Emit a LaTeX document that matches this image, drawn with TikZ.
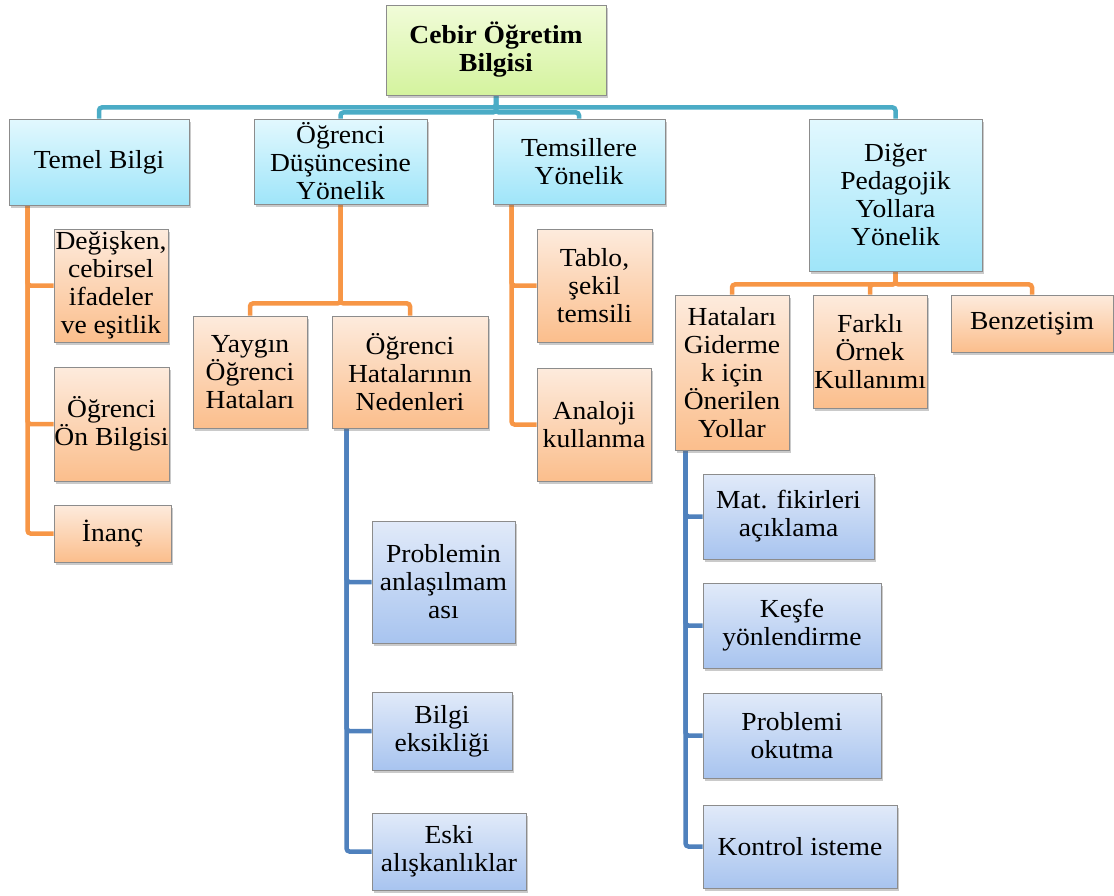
\documentclass[tikz,border=0pt]{standalone}
\usepackage{fontspec}
\setmainfont{Liberation Serif}[FakeStretch=1.06]
\usetikzlibrary{shadows,calc,backgrounds}

\definecolor{linkteal}{HTML}{4BACC6}
\definecolor{linkorange}{HTML}{F79646}
\definecolor{linkblue}{HTML}{4F81BD}

\tikzset{
  box/.style={draw=black!45, line width=0.9pt, inner sep=0pt, align=center,
    font=\fontsize{26}{28}\selectfont,
    drop shadow={shadow xshift=1.5pt, shadow yshift=-3pt, opacity=0.35, fill=black!60}},
  rootbox/.style={box, top color={rgb,255:red,241;green,252;blue,217}, bottom color={rgb,255:red,212;green,243;blue,158},
    font=\fontsize{26}{28}\selectfont\bfseries},
  cyanbox/.style={box, top color={rgb,255:red,226;green,248;blue,254}, bottom color={rgb,255:red,159;green,229;blue,249}},
  orangebox/.style={box, top color={rgb,255:red,253;green,235;blue,221}, bottom color={rgb,255:red,251;green,190;blue,140}},
  bluebox/.style={box, top color={rgb,255:red,225;green,234;blue,249}, bottom color={rgb,255:red,168;green,196;blue,239}},
  tealline/.style={draw=linkteal, line width=4.5pt, rounded corners=3pt},
  orangeline/.style={draw=linkorange, line width=4.5pt, rounded corners=3pt},
  blueline/.style={draw=linkblue, line width=4.5pt, rounded corners=3pt}
}

\begin{document}
\begin{tikzpicture}[x=1pt, y=-1pt]
\useasboundingbox (0,0) rectangle (1114,895);

% root
\node[rootbox, minimum width=220, minimum height=90] (root) at (496,50) {Cebir Öğretim\\Bilgisi};

% first level
\node[cyanbox, minimum width=180, minimum height=86] (tb) at (99,162) {Temel Bilgi};
\node[cyanbox, minimum width=173, minimum height=85] (od) at (340.5,161.5) {Öğrenci\\Düşüncesine\\Yönelik};
\node[cyanbox, minimum width=172, minimum height=85] (tm) at (579,161.5) {Temsillere\\Yönelik};
\node[cyanbox, minimum width=173, minimum height=152] (dp) at (895.5,195) {Diğer\\Pedagojik\\Yollara\\Yönelik};

% second level
\node[orangebox, minimum width=114, minimum height=113] (dg) at (111,285.5) {Değişken,\\cebirsel\\ifadeler\\ve eşitlik};
\node[orangebox, minimum width=115, minimum height=114] (ob) at (111.5,424) {Öğrenci\\Ön Bilgisi};
\node[orangebox, minimum width=117, minimum height=57] (in) at (112.5,533.5) {İnanç};
\node[orangebox, minimum width=114, minimum height=112] (yh) at (250,372) {Yaygın\\Öğrenci\\Hataları};
\node[orangebox, minimum width=156, minimum height=112] (hn) at (410,372) {Öğrenci\\Hatalarının\\Nedenleri};
\node[orangebox, minimum width=115, minimum height=113] (ts) at (594.5,285.5) {Tablo,\\şekil\\temsili};
\node[orangebox, minimum width=114, minimum height=113] (an) at (594,424.5) {Analoji\\kullanma};
\node[orangebox, minimum width=114, minimum height=155] (hg) at (732,372.5) {Hataları\\Giderme\\k için\\Önerilen\\Yollar};
\node[orangebox, minimum width=114, minimum height=113] (fo) at (870,351.5) {Farklı\\Örnek\\Kullanımı};
\node[orangebox, minimum width=162, minimum height=57] (bz) at (1032,323.5) {Benzetişim};

% third level
\node[bluebox, minimum width=143, minimum height=122] (pa) at (443.5,582) {Problemin\\anlaşılmam\\ası};
\node[bluebox, minimum width=140, minimum height=78] (be) at (442,731) {Bilgi\\eksikliği};
\node[bluebox, minimum width=154, minimum height=77] (ea) at (449,851.5) {Eski\\alışkanlıklar};
\node[bluebox, minimum width=171, minimum height=85] (mf) at (788.5,516.5) {Mat. fikirleri\\açıklama};
\node[bluebox, minimum width=178, minimum height=85] (ky) at (792,625.5) {Keşfe\\yönlendirme};
\node[bluebox, minimum width=178, minimum height=85] (po) at (792,735.5) {Problemi\\okutma};
\node[bluebox, minimum width=194, minimum height=83] (ki) at (800,846.5) {Kontrol isteme};

% connectors, kept behind the boxes
\begin{scope}[on background layer]
  % root to first level
  \draw[tealline] (root.south) -- ++(0,12) -| (tb.north);
  \draw[tealline] (root.south) -- ++(0,12) -| (dp.north);
  \draw[tealline] (root.south) -- ++(0,17) -| (od.north);
  \draw[tealline] (root.south) -- ++(0,17) -| (tm.north);

  % Temel Bilgi
  \coordinate (tbx) at ($(tb.south west)+(19,0)$);
  \draw[orangeline] (tbx) |- (dg.west);
  \draw[orangeline] (tbx) |- (ob.west);
  \draw[orangeline] (tbx) |- (in.west);

  % Öğrenci Düşüncesine Yönelik
  \draw[orangeline] (od.south) -- ++(0,99) -| (yh.north);
  \draw[orangeline] (od.south) -- ++(0,99) -| (hn.north);

  % Öğrenci Hatalarının Nedenleri
  \coordinate (hnx) at ($(hn.south west)+(15,0)$);
  \draw[blueline] (hnx) |- (pa.west);
  \draw[blueline] (hnx) |- (be.west);
  \draw[blueline] (hnx) |- (ea.west);

  % Temsillere Yönelik
  \coordinate (tmx) at ($(tm.south west)+(19,0)$);
  \draw[orangeline] (tmx) |- (ts.west);
  \draw[orangeline] (tmx) |- (an.west);

  % Diğer Pedagojik Yollara Yönelik
  \draw[orangeline] (dp.south) -- ++(0,13) -| (hg.north);
  \draw[orangeline] (dp.south) -- ++(0,13) -| (fo.north);
  \draw[orangeline] (dp.south) -- ++(0,13) -| (bz.north);

  % Hataları Gidermek için Önerilen Yollar
  \coordinate (hgx) at ($(hg.south west)+(11,0)$);
  \draw[blueline] (hgx) |- (mf.west);
  \draw[blueline] (hgx) |- (ky.west);
  \draw[blueline] (hgx) |- (po.west);
  \draw[blueline] (hgx) |- (ki.west);
\end{scope}

\end{tikzpicture}
\end{document}
